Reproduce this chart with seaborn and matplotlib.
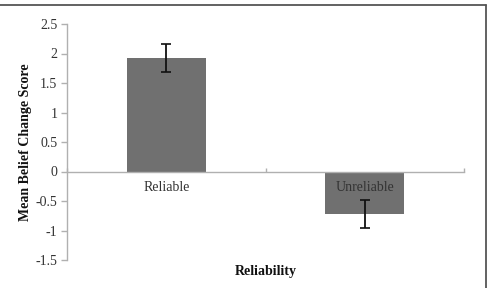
import numpy as np
import pandas as pd
import matplotlib
matplotlib.use("Agg")
import matplotlib.pyplot as plt
import seaborn as sns
from matplotlib.lines import Line2D

categories = ["Reliable", "Unreliable"]
means = [1.92, -0.72]
errors = [0.235, 0.235]
yticks = [-1.5, -1, -0.5, 0, 0.5, 1, 1.5, 2, 2.5]
ytick_labels = ["-1.5", "-1", "-0.5", "0", "0.5", "1", "1.5", "2", "2.5"]

sns.set_theme(style="white")
plt.rcParams['font.family'] = ['Liberation Serif', 'DejaVu Serif']

df = pd.DataFrame({"Reliability": categories, "Mean": means})

fig = plt.figure(figsize=(4.87, 2.88), dpi=100)
W, H = 487, 288
ax = fig.add_axes([67 / W, 1 - 260 / H, (464 - 67) / W, (260 - 24) / H])

sns.barplot(data=df, x="Reliability", y="Mean", ax=ax, color="#707070",
            saturation=1, width=0.4, errorbar=None, edgecolor="none")
ax.errorbar(x=np.arange(len(categories)), y=means, yerr=errors, fmt="none",
            ecolor="#111111", elinewidth=1.3, capsize=3.5, capthick=1.2,
            zorder=3)
ax.set_axisbelow(False)

ax.set_xlim(-0.5, 1.5)
ax.set_ylim(-1.5, 2.5)
ax.set_yticks(yticks)
ax.set_yticklabels(ytick_labels)

for s in ["top", "right"]:
    ax.spines[s].set_visible(False)
ax.spines["left"].set_color("#b0b0b0")
ax.spines["left"].set_linewidth(1.0)
ax.spines["bottom"].set_position(("data", 0))
ax.spines["bottom"].set_color("#b0b0b0")
ax.spines["bottom"].set_linewidth(1.0)

ax.tick_params(axis="y", which="major", direction="out", length=4, width=1,
               color="#b0b0b0", labelsize=10, labelcolor="#333333", pad=3, left=True)
ax.tick_params(axis="x", which="major", length=0, labelsize=10,
               labelcolor="#333333", pad=7)
ax.set_xticks([-0.5, 0.5, 1.5], minor=True)
ax.tick_params(axis="x", which="minor", direction="in", length=3, width=1,
               color="#b0b0b0", bottom=True)

ax.set_xlabel("")
ax.set_ylabel("Mean Belief Change Score", fontsize=10, fontweight="bold",
              color="#111111")
ax.yaxis.set_label_coords(-0.088, 0.5)
fig.text(265.5 / W, 1 - 272 / H, "Reliability", ha="center", va="center",
         fontsize=10, fontweight="bold", color="#111111")

# cropped frame lines (top and right)
fig.add_artist(Line2D([0, 485.5 / W], [1 - 4.5 / H, 1 - 4.5 / H],
                      transform=fig.transFigure, color="#555555", lw=1.3))
fig.add_artist(Line2D([485.5 / W, 485.5 / W], [0, 1 - 4.5 / H],
                      transform=fig.transFigure, color="#555555", lw=1.3))

fig.savefig("out.png", dpi=100)
